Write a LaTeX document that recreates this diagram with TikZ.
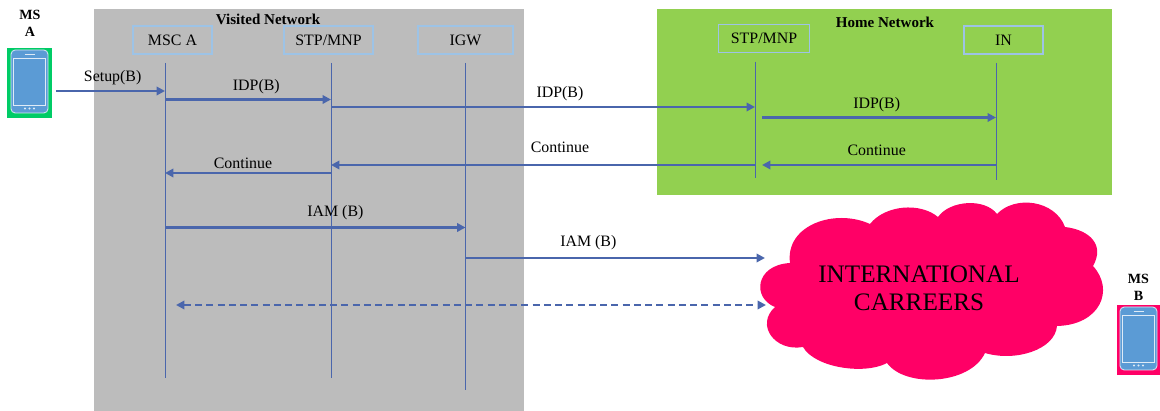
\documentclass[tikz,border=0pt]{standalone}
\usepackage{fontspec}
\setmainfont{Liberation Serif}
\usetikzlibrary{arrows.meta}
\definecolor{visitedgray}{HTML}{BCBCBC}
\definecolor{homegreen}{HTML}{92D050}
\definecolor{carrierpink}{HTML}{FF0066}
\definecolor{phonegreen}{HTML}{00CC66}
\definecolor{phoneblue}{HTML}{5B9BD5}
\definecolor{boxblue}{HTML}{9DC3E6}
\definecolor{msgblue}{HTML}{4A66AC}
\tikzset{
	entity/.style = {draw=boxblue, line width=1pt, minimum height=0.7cm, inner sep=0pt, font=\fontsize{11.3}{13}\selectfont},
	title/.style = {inner sep=0pt, font=\fontsize{10.7}{12}\selectfont\bfseries},
	mslabel/.style = {inner sep=0pt, align=center, font=\fontsize{10}{12}\selectfont\bfseries},
	lifeline/.style = {draw=msgblue, line width=0.7pt},
	msgline/.style = {draw=msgblue, line width=2pt, -{Triangle[length=6pt,width=6pt]}},
	msglabel/.style = {inner sep=0pt, font=\fontsize{11.3}{13}\selectfont},
	phonebg/.style = {minimum width=1.1cm, minimum height=1.75cm, inner sep=0pt}
}
\begin{document}
\begin{tikzpicture}[x=0.025cm, y=-0.025cm]
	\useasboundingbox (0,0) rectangle (1160,411);
	\fill[visitedgray] (94,9) rectangle (524,411);
	\fill[homegreen] (657,9) rectangle (1112,195);

	\node[title] (visited) at (268,19.5) {Visited Network};
	\node[title] (home) at (885,22) {Home Network};

	% the carriers cloud
	\fill[carrierpink] (790,263) .. controls (755,265) and (752,298) .. (775,307)
		.. controls (755,325) and (775,352) .. (803,347)
		.. controls (815,368) and (865,375) .. (887,363)
		.. controls (905,388) and (970,385) .. (985,353)
		.. controls (1015,362) and (1055,350) .. (1057,326)
		.. controls (1100,325) and (1115,290) .. (1093,266)
		.. controls (1105,245) and (1090,230) .. (1065,227)
		.. controls (1055,200) and (1015,195) .. (997,214)
		.. controls (985,198) and (950,200) .. (938,217)
		.. controls (920,202) and (885,205) .. (870,224)
		.. controls (835,208) and (785,225) .. (790,263) -- cycle;
	\node[align=center, inner sep=0pt, font=\fontsize{17.9}{20}\selectfont] (carriers) at (919,288) {INTERNATIONAL\\CARREERS};

	\node[entity, minimum width=1.97cm] (mscA) at (172.5,40) {MSC A};
	\node[entity, minimum width=2.23cm] (stpV) at (328.5,40) {STP/MNP};
	\node[entity, minimum width=2.37cm] (igw) at (465.5,40) {IGW};
	\node[entity, minimum width=2.28cm] (stpH) at (764,38.5) {STP/MNP};
	\node[entity, minimum width=1.97cm] (in) at (1003.5,40) {IN};

	\coordinate (mscTop) at (165,63);
	\coordinate (mscBot) at (165,378);
	\coordinate (stpVTop) at (331,63);
	\coordinate (stpVBot) at (331,378);
	\coordinate (igwTop) at (465.5,63);
	\coordinate (igwBot) at (465.5,390);
	\coordinate (stpHTop) at (755,62);
	\coordinate (stpHBot) at (755,178);
	\coordinate (inTop) at (996,63);
	\coordinate (inBot) at (996,180);
	\draw[lifeline] (mscTop) -- (mscBot);
	\draw[lifeline] (stpVTop) -- (stpVBot);
	\draw[lifeline] (igwTop) -- (igwBot);
	\draw[lifeline] (stpHTop) -- (stpHBot);
	\draw[lifeline] (inTop) -- (inBot);

	% phones
	\node[phonebg, fill=phonegreen] (phoneA) at (29.5,83) {};
	\node[phonebg, fill=carrierpink] (phoneB) at (1138.5,340) {};
	\node[mslabel] (labelA) at (30,23) {MS\\A};
	\node[mslabel] (labelB) at (1138.5,287) {MS\\B};
	\foreach \phone in {phoneA, phoneB} {
		\begin{scope}[shift={(\phone)}]
			\filldraw[fill=phoneblue, draw=white!75!phoneblue, line width=0.6pt, rounded corners=3pt] (-18.5,-33) rectangle (18.5,30);
			\draw[white!80!phoneblue, line width=0.6pt] (-16,-24.5) rectangle (16,22);
			\draw[white!80!phoneblue, line width=0.6pt] (-5,-28.5) -- (5,-28.5);
			\foreach \x in {-4.5, 0, 4.5}
				\fill[white!80!phoneblue] (\x,25.5) circle (1.1);
		\end{scope}
	}

	% message rows
	\coordinate (rowSetup) at (0,91);
	\coordinate (rowIdpA) at (0,99.5);
	\coordinate (rowIdpB) at (0,107);
	\coordinate (rowIdpC) at (0,117.5);
	\coordinate (rowContA) at (0,165);
	\coordinate (rowContB) at (0,173);
	\coordinate (rowIamA) at (0,227.5);
	\coordinate (rowIamB) at (0,258);
	\coordinate (rowVoice) at (0,305);
	\coordinate (setupStart) at (56,0);
	\coordinate (stpHStart) at (762,0);
	\coordinate (iamEnd) at (765,0);
	\coordinate (voiceStart) at (176,0);
	\coordinate (voiceEnd) at (766,0);

	\draw[msgline] (setupStart |- rowSetup) -- (mscTop |- rowSetup) node[msglabel, pos=0.52, above=3.2pt] (setup) {Setup(B)};
	\draw[msgline] (mscTop |- rowIdpA) -- (stpVTop |- rowIdpA) node[msglabel, pos=0.55, above=3pt] (idpA) {IDP(B)};
	\draw[msgline] (stpVTop |- rowIdpB) -- (stpHTop |- rowIdpB) node[msglabel, pos=0.54, above=3pt] (idpB) {IDP(B)};
	\draw[msgline] (stpHStart |- rowIdpC) -- (inTop |- rowIdpC) node[msglabel, pos=0.49, above=3pt] (idpC) {IDP(B)};
	\draw[msgline] (inTop |- rowContA) -- (stpHStart |- rowContA) node[msglabel, pos=0.51, above=5.3pt] (contC) {Continue};
	\draw[msgline] (stpHTop |- rowContA) -- (stpVTop |- rowContA) node[msglabel, pos=0.46, above=7.6pt] (contB) {Continue};
	\draw[msgline] (stpVTop |- rowContB) -- (mscTop |- rowContB) node[msglabel, pos=0.53, above=2pt] (contA) {Continue};
	\draw[msgline] (mscTop |- rowIamA) -- (igwTop |- rowIamA) node[msglabel, pos=0.567, above=4.5pt] (iamA) {IAM (B)};
	\draw[msgline] (igwTop |- rowIamB) -- (iamEnd |- rowIamB) node[msglabel, pos=0.41, above=4.5pt] (iamB) {IAM (B)};
	\draw[msgline, {Triangle[length=6pt,width=6pt]}-{Triangle[length=6pt,width=6pt]}, dash pattern=on 5pt off 3pt] (voiceStart |- rowVoice) -- (voiceEnd |- rowVoice);
\end{tikzpicture}
\end{document}
